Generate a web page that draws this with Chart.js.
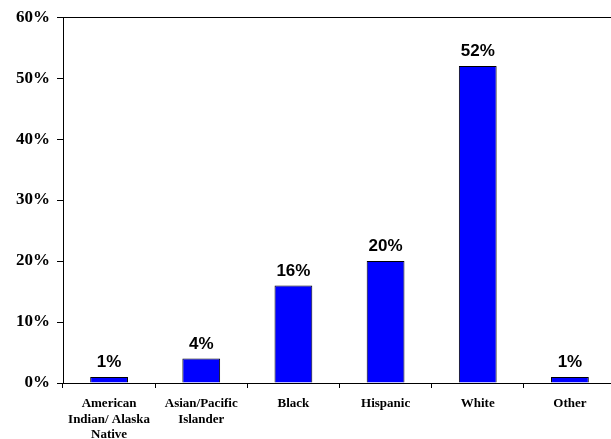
<!DOCTYPE html>
<html>
<head>
<meta charset="utf-8">
<script src="https://cdn.jsdelivr.net/npm/chart.js@4/dist/chart.umd.min.js"></script>
<style>
  html, body { margin: 0; padding: 0; background: #fff; overflow: hidden; }
  #wrap { width: 611px; height: 439px; overflow: hidden; }
  canvas { display: block; }
</style>
</head>
<body>
<div id="wrap"><canvas id="chart" width="616" height="439"></canvas></div>
<script>
// Categories and values (percent)
const categories = [
    ['American', 'Indian/ Alaska', 'Native'],
    ['Asian/Pacific', 'Islander'],
    'Black',
    'Hispanic',
    'White',
    'Other'
];
const shares = [1, 4, 16, 20, 52, 1];
const yTicks = [0, 10, 20, 30, 40, 50, 60];

// Value labels above each bar
const barLabels = {
    id: 'barLabels',
    afterDatasetsDraw(chart) {
        const ctx = chart.ctx;
        const meta = chart.getDatasetMeta(0);
        ctx.save();
        ctx.font = 'bold 17px "Liberation Sans", Arial, sans-serif';
        ctx.fillStyle = '#000';
        ctx.textAlign = 'center';
        ctx.textBaseline = 'bottom';
        meta.data.forEach((bar, i) => {
            ctx.fillText(shares[i] + '%', bar.x, bar.y - 6);
        });
        ctx.restore();
    }
};

new Chart(document.getElementById('chart').getContext('2d'), {
    type: 'bar',
    data: {
        labels: categories,
        datasets: [{
            data: shares,
            backgroundColor: '#0000ff',
            borderColor: '#000',
            borderWidth: 1,
            categoryPercentage: 1,
            barPercentage: 0.41
        }]
    },
    options: {
        responsive: false,
        animation: false,
        layout: { padding: { top: 15, right: 0, left: 0, bottom: 0 } },
        plugins: {
            legend: { display: false },
            tooltip: { enabled: false }
        },
        scales: {
            x: {
                grid: {
                    offset: true,
                    drawOnChartArea: false,
                    tickLength: 5,
                    tickColor: '#000'
                },
                border: { color: '#000', width: 1 },
                ticks: {
                    color: '#000',
                    font: { family: '"Liberation Serif", "Times New Roman", serif', size: 13, weight: 'bold', lineHeight: 1.2 },
                    padding: 8,
                    maxRotation: 0,
                    autoSkip: false
                },
                afterFit(scale) { scale.height = 56; }
            },
            y: {
                min: 0,
                max: 60,
                afterBuildTicks(scale) { scale.ticks = yTicks.map(v => ({ value: v })); },
                grid: {
                    color: c => (c.tick && c.tick.value === 60) ? '#000' : 'rgba(0,0,0,0)',
                    tickColor: '#000',
                    tickLength: 6
                },
                border: { color: '#000', width: 1 },
                ticks: {
                    color: '#000',
                    font: { family: '"Liberation Serif", "Times New Roman", serif', size: 17, weight: 'bold' },
                    padding: 7,
                    callback: v => v + '%'
                },
                afterFit(scale) { scale.width = 63; }
            }
        }
    },
    plugins: [barLabels]
});
</script>
</body>
</html>
